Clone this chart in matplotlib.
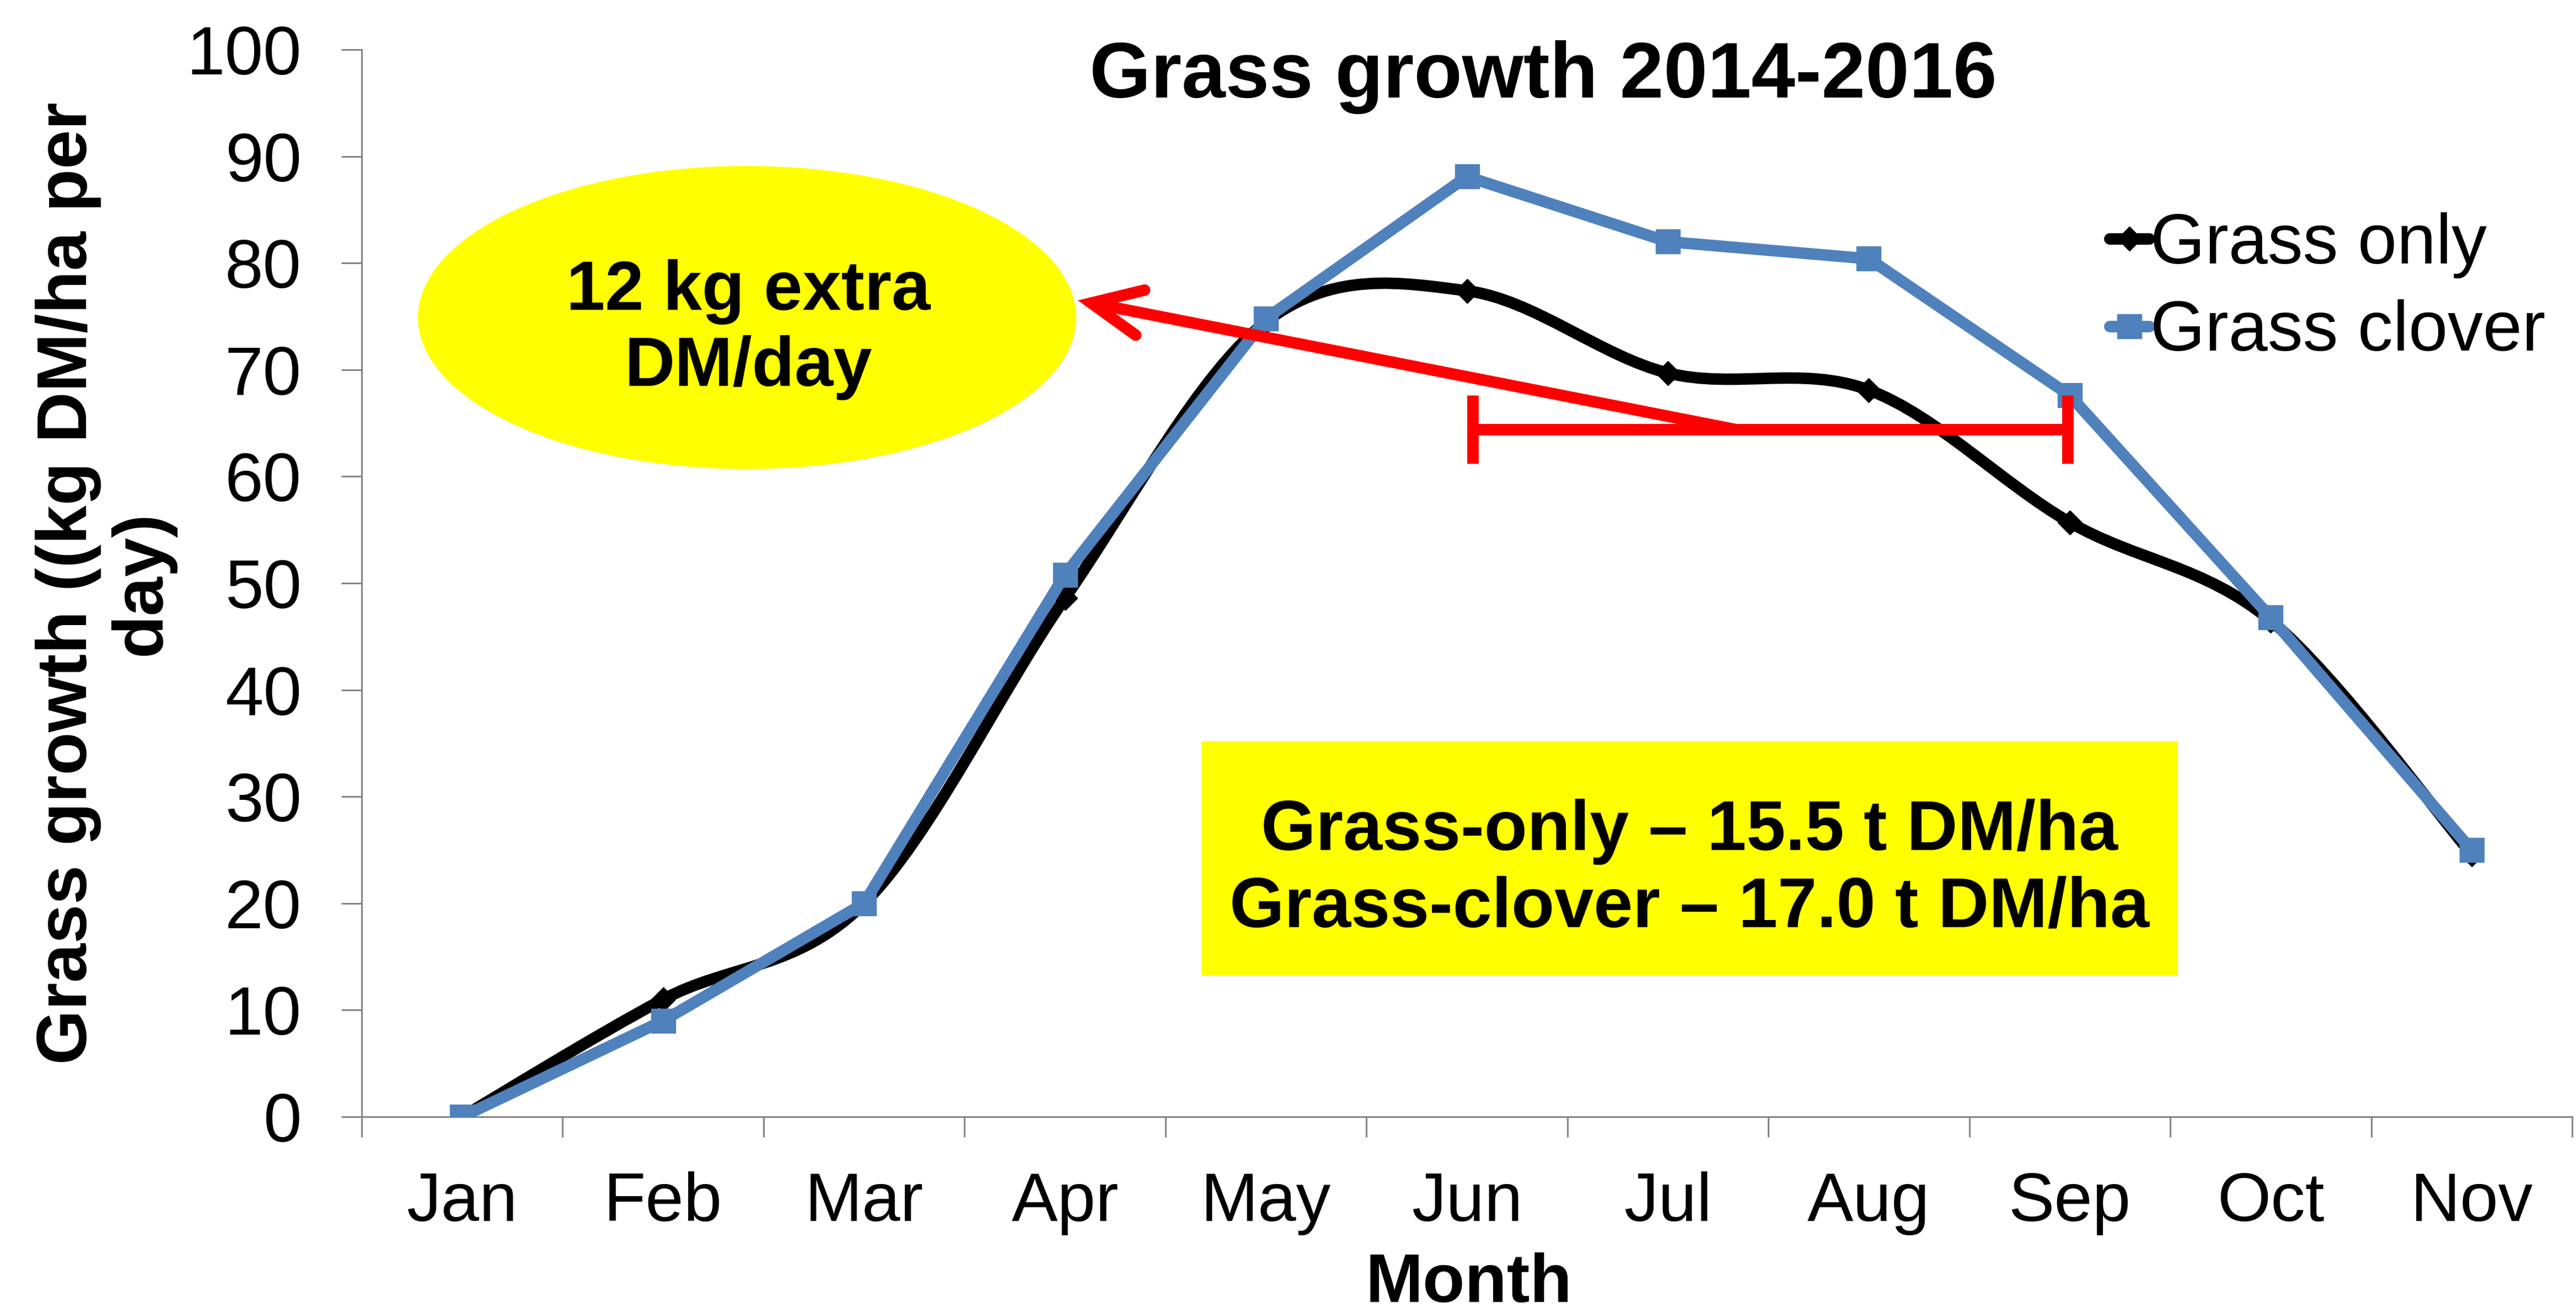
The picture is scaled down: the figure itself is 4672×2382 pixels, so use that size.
import matplotlib
matplotlib.use('Agg')
import matplotlib.pyplot as plt
from matplotlib.path import Path
from matplotlib.patches import PathPatch, Ellipse, Rectangle, FancyArrowPatch
from matplotlib.lines import Line2D
import numpy as np

# ---------------- data ----------------
months = ['Jan', 'Feb', 'Mar', 'Apr', 'May', 'Jun', 'Jul', 'Aug', 'Sep', 'Oct', 'Nov']
grass_only = [0, 11.0, 20.0, 48.6, 74.5, 77.4, 69.7, 68.1, 55.7, 46.5, 24.6]
grass_clover = [0, 9.0, 20.0, 50.8, 74.8, 88.1, 82.0, 80.4, 67.6, 46.8, 25.0]
y_ticks = list(range(0, 101, 10))
series_labels = ['Grass only', 'Grass clover']

title_text = 'Grass growth 2014-2016'
xlabel_text = 'Month'
ylabel_text = 'Grass growth ((kg DM/ha per\nday)'
ellipse_text = '12 kg extra\nDM/day'
box_text = 'Grass-only \u2013 15.5 t DM/ha\nGrass-clover \u2013 17.0 t DM/ha'

# annotation geometry (data coordinates)
bar_x = [5.0, 8.0]
bar_level = 64.4
arrow_tail = (6.337, 64.4)
arrow_head = (3.064, 76.5)

BLUE = '#4F81BD'
RED = '#FF0000'
YELLOW = '#FFFF00'
GRAY = '#868686'
LW = 15

plt.rcParams['font.family'] = ['Liberation Sans', 'DejaVu Sans']

W, H = 4672, 2382
fig = plt.figure(figsize=(W / 100, H / 100), dpi=100)
ax_l, ax_r, ax_t, ax_b = 656, 4665, 90, 2026
ax = fig.add_axes([ax_l / W, 1 - ax_b / H, (ax_r - ax_l) / W, (ax_b - ax_t) / H])

x = np.arange(len(months))
ax.set_xlim(-0.5, len(months) - 0.5)
ax.set_ylim(0, 100)


def smooth_path(xs, ys):
    pts = np.column_stack([xs, ys]).astype(float)
    n = len(pts)
    verts = [pts[0]]
    codes = [Path.MOVETO]
    for i in range(n - 1):
        p0 = pts[i - 1] if i > 0 else pts[i]
        p1 = pts[i]
        p2 = pts[i + 1]
        p3 = pts[i + 2] if i + 2 < n else pts[i + 1]
        c1 = p1 + (p2 - p0) / 6.0
        c2 = p2 - (p3 - p1) / 6.0
        verts += [c1, c2, p2]
        codes += [Path.CURVE4] * 3
    return Path(verts, codes)


# black smoothed series
ax.add_patch(PathPatch(smooth_path(x, grass_only), facecolor='none', edgecolor='black',
                       lw=LW, joinstyle='round', capstyle='round', zorder=3))
ax.plot(x, grass_only, linestyle='none', marker='D', ms=22, color='black', zorder=3.1)

# blue series
ax.plot(x, grass_clover, color=BLUE, lw=LW, marker='s', ms=32, solid_joinstyle='round',
        solid_capstyle='round', zorder=4)

# yellow ellipse with text
ax.add_patch(Ellipse((1.418, 74.9), 3.276, 28.4, facecolor=YELLOW, edgecolor='none', zorder=2))
ax.text(1.423, 68.5, ellipse_text, ha='center', va='baseline', multialignment='center',
        fontsize=91, fontweight='bold', zorder=6)

# yellow rectangle with text
ax.add_patch(Rectangle((3.678, 13.2), 8.537 - 3.678, 35.2 - 13.2, facecolor=YELLOW,
                       edgecolor='none', zorder=2))
ax.text(6.108, 17.82, box_text, ha='center', va='baseline', multialignment='center',
        fontsize=92, fontweight='bold', zorder=6)

# red bar with end caps
ax.plot(bar_x, [bar_level, bar_level], color=RED, lw=LW, solid_capstyle='butt', zorder=5)
for cx in (5.03, 7.99):
    ax.plot([cx, cx], [bar_level - 3.2, bar_level + 3.2], color=RED, lw=LW,
            solid_capstyle='butt', zorder=5)

# red arrow
ax.add_patch(FancyArrowPatch(posA=arrow_tail, posB=arrow_head,
                             arrowstyle='->,head_length=0.65,head_width=0.3',
                             mutation_scale=100, lw=LW, color=RED, shrinkA=0, shrinkB=0,
                             capstyle='round', joinstyle='miter', zorder=5))

# axes styling
for s in ('top', 'right'):
    ax.spines[s].set_visible(False)
for s in ('left', 'bottom'):
    ax.spines[s].set_color(GRAY)
    ax.spines[s].set_linewidth(2.2)

ax.set_yticks(y_ticks)
ax.set_yticklabels([str(v) for v in y_ticks])
ax.tick_params(axis='y', length=26.6, width=2.2, color=GRAY, pad=52, labelsize=90,
               direction='out')

ax.set_xticks(np.arange(-0.5, len(months)), minor=False)
ax.set_xticklabels([''] * (len(months) + 1), minor=False)
ax.set_xticks(x, minor=True)
ax.set_xticklabels(months, minor=True)
ax.tick_params(axis='x', which='major', length=26.6, width=2.2, color=GRAY, direction='out')
ax.tick_params(axis='x', which='minor', length=0, pad=71, labelsize=90)

# axis labels
ax.set_xlabel(xlabel_text, fontsize=90, fontweight='bold', va='baseline')
ax.xaxis.set_label_coords(0.5009, -0.1736)
ax.set_ylabel(ylabel_text, fontsize=92, fontweight='bold', va='center', ha='center',
              multialignment='center', linespacing=1.15)
ax.yaxis.set_label_coords(-0.116, 0.5)

# title
fig.text(2799 / W, 1 - 177 / H, title_text, ha='center', va='baseline', fontsize=103,
         fontweight='bold')

# legend
handles = [
    Line2D([], [], color='black', lw=LW, marker='D', ms=22, solid_capstyle='round'),
    Line2D([], [], color=BLUE, lw=LW, marker='s', ms=32, solid_capstyle='round'),
]
ax.legend(handles, series_labels, loc='upper left', bbox_to_anchor=(3826 / W, 1 - 385 / H),
          bbox_transform=fig.transFigure, frameon=False, fontsize=92, handlelength=0.56,
          handletextpad=0.02, borderpad=0, borderaxespad=0, labelspacing=0.3)

fig.savefig('out.png', dpi=100)
